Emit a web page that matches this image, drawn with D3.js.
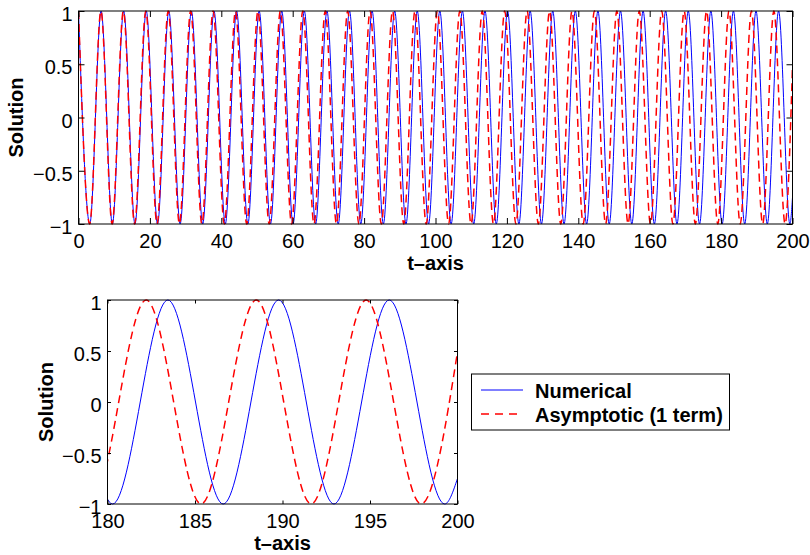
<!DOCTYPE html>
<html>
<head>
<meta charset="utf-8">
<script src="https://cdn.jsdelivr.net/npm/d3@7"></script>
<style>
  body { margin: 0; background: #fff; }
  svg { display: block; font-family: "Liberation Sans", Arial, Helvetica, sans-serif; }
</style>
</head>
<body>
<svg id="chart" width="810" height="555"></svg>
<script>
// times of the maxima (y = 1) and minima (y = -1)
const numericalPeaks = [0, 6.33, 12.65, 18.98, 25.30, 31.63, 37.96, 44.28, 50.61, 56.93, 63.26, 69.59,
  75.91, 82.24, 88.56, 94.89, 101.21, 107.54, 113.87, 120.19, 126.52, 132.84, 139.17, 145.50,
  151.82, 158.15, 164.47, 170.80, 177.13, 183.45, 189.78, 196.10];
const numericalTroughs = [3.16, 9.49, 15.82, 22.14, 28.47, 34.79, 41.12, 47.44, 53.77, 60.10, 66.42,
  72.75, 79.07, 85.40, 91.73, 98.05, 104.38, 110.70, 117.03, 123.36, 129.68, 136.01, 142.33,
  148.66, 154.99, 161.31, 167.64, 173.96, 180.29, 186.61, 192.94, 199.27];
const asymptoticPeaks = [0, 6.28, 12.57, 18.85, 25.13, 31.42, 37.70, 43.98, 50.27, 56.55, 62.83, 69.12,
  75.40, 81.68, 87.96, 94.25, 100.53, 106.81, 113.10, 119.38, 125.66, 131.95, 138.23, 144.51,
  150.80, 157.08, 163.36, 169.65, 175.93, 182.21, 188.50, 194.78];
const asymptoticTroughs = [3.14, 9.42, 15.71, 21.99, 28.27, 34.56, 40.84, 47.12, 53.41, 59.69, 65.97,
  72.26, 78.54, 84.82, 91.11, 97.39, 103.67, 109.96, 116.24, 122.52, 128.81, 135.09, 141.37,
  147.65, 153.94, 160.22, 166.50, 172.79, 179.07, 185.35, 191.64, 197.92];
// value of each curve at t = 200
const numericalEnd = [200, -0.75];
const asymptoticEnd = [200, 0.49];

const topXTicks = [0, 20, 40, 60, 80, 100, 120, 140, 160, 180, 200];
const zoomXTicks = [180, 185, 190, 195, 200];
const yTicks = [-1, -0.5, 0, 0.5, 1];
const legendLabels = ["Numerical", "Asymptotic (1 term)"];

function buildSeries(peaks, troughs, end) {
  const pts = peaks.map(t => [t, 1]).concat(troughs.map(t => [t, -1]));
  pts.push(end);
  return pts.sort((a, b) => a[0] - b[0]);
}

const numerical = buildSeries(numericalPeaks, numericalTroughs, numericalEnd);
const asymptotic = buildSeries(asymptoticPeaks, asymptoticTroughs, asymptoticEnd);

const svg = d3.select("#chart");
const fmt = d3.format("");

function drawPanel(p) {
  const x = d3.scaleLinear().domain(p.xDomain).range([p.left, p.right]);
  const y = d3.scaleLinear().domain([-1, 1]).range([p.bottom, p.top]);
  const g = svg.append("g");

  g.append("clipPath").attr("id", p.id)
    .append("rect")
    .attr("x", p.left).attr("y", p.top - 1)
    .attr("width", p.right - p.left).attr("height", p.bottom - p.top + 2);

  const line = d3.line()
    .x(d => x(d[0]))
    .y(d => y(d[1]))
    .curve(d3.curveMonotoneX);

  const plot = g.append("g").attr("clip-path", `url(#${p.id})`);
  plot.append("path")
    .datum(numerical)
    .attr("d", line)
    .attr("fill", "none")
    .attr("stroke", "#0000ff")
    .attr("stroke-width", 1);
  plot.append("path")
    .datum(asymptotic)
    .attr("d", line)
    .attr("fill", "none")
    .attr("stroke", "#ff0000")
    .attr("stroke-width", 1.5)
    .attr("stroke-dasharray", "8,5");

  // ticks point inward, labels only on bottom/left
  g.append("g")
    .attr("transform", `translate(0,${p.bottom})`)
    .call(d3.axisBottom(x).tickValues(p.xTicks).tickSize(-p.tick).tickPadding(10).tickFormat(fmt));
  g.append("g")
    .attr("transform", `translate(0,${p.top})`)
    .call(d3.axisTop(x).tickValues(p.xTicks).tickSize(-p.tick).tickFormat(""));
  const leftAxis = g.append("g")
    .attr("transform", `translate(${p.left},0)`)
    .call(d3.axisLeft(y).tickValues(yTicks).tickSize(-p.tick).tickPadding(6).tickFormat(fmt));
  g.append("g")
    .attr("transform", `translate(${p.right},0)`)
    .call(d3.axisRight(y).tickValues(yTicks).tickSize(-p.tick).tickFormat(""));

  g.selectAll(".domain").remove();
  g.selectAll(".tick line").attr("stroke", "#000");
  g.selectAll(".tick text")
    .attr("fill", "#000")
    .style("font-size", "20px")
    .style("font-family", "'Liberation Sans', Arial, sans-serif");
  leftAxis.selectAll(".tick text").attr("dy", "0.48em");

  g.append("rect")
    .attr("x", p.left).attr("y", p.top)
    .attr("width", p.right - p.left).attr("height", p.bottom - p.top)
    .attr("fill", "none")
    .attr("stroke", "#000")
    .attr("stroke-width", 1);

  g.append("text")
    .attr("x", (p.left + p.right) / 2)
    .attr("y", p.bottom + p.xLabelGap)
    .attr("text-anchor", "middle")
    .style("font-size", "20px")
    .style("font-weight", "bold")
    .text("t\u2013axis");

  g.append("text")
    .attr("transform", `translate(${p.yLabelX},${(p.top + p.bottom) / 2}) rotate(-90)`)
    .attr("text-anchor", "middle")
    .style("font-size", "20px")
    .style("font-weight", "bold")
    .text("Solution");
}

drawPanel({ id: "clipTop", xDomain: [0, 200], xTicks: topXTicks,
  left: 78.5, right: 792.5, top: 11, bottom: 224, tick: 6, xLabelGap: 46, yLabelX: 23 });
drawPanel({ id: "clipZoom", xDomain: [180, 200], xTicks: zoomXTicks,
  left: 107.5, right: 457.5, top: 300, bottom: 504, tick: 3.5, xLabelGap: 46, yLabelX: 53 });

// legend
const legend = svg.append("g");
legend.append("rect")
  .attr("x", 471.5).attr("y", 374)
  .attr("width", 258).attr("height", 56)
  .attr("fill", "#fff")
  .attr("stroke", "#000")
  .attr("stroke-width", 1);

const legendStyles = [
  { color: "#0000ff", width: 1, dash: null },
  { color: "#ff0000", width: 1.5, dash: "8,6" }
];

legendLabels.forEach((label, i) => {
  const yy = 390 + i * 24;
  legend.append("line")
    .attr("x1", 481).attr("x2", 523)
    .attr("y1", yy).attr("y2", yy)
    .attr("stroke", legendStyles[i].color)
    .attr("stroke-width", legendStyles[i].width)
    .attr("stroke-dasharray", legendStyles[i].dash);
  legend.append("text")
    .attr("x", 535)
    .attr("y", yy + 7.5)
    .style("font-size", "20px")
    .style("font-weight", "bold")
    .text(label);
});
</script>
</body>
</html>
